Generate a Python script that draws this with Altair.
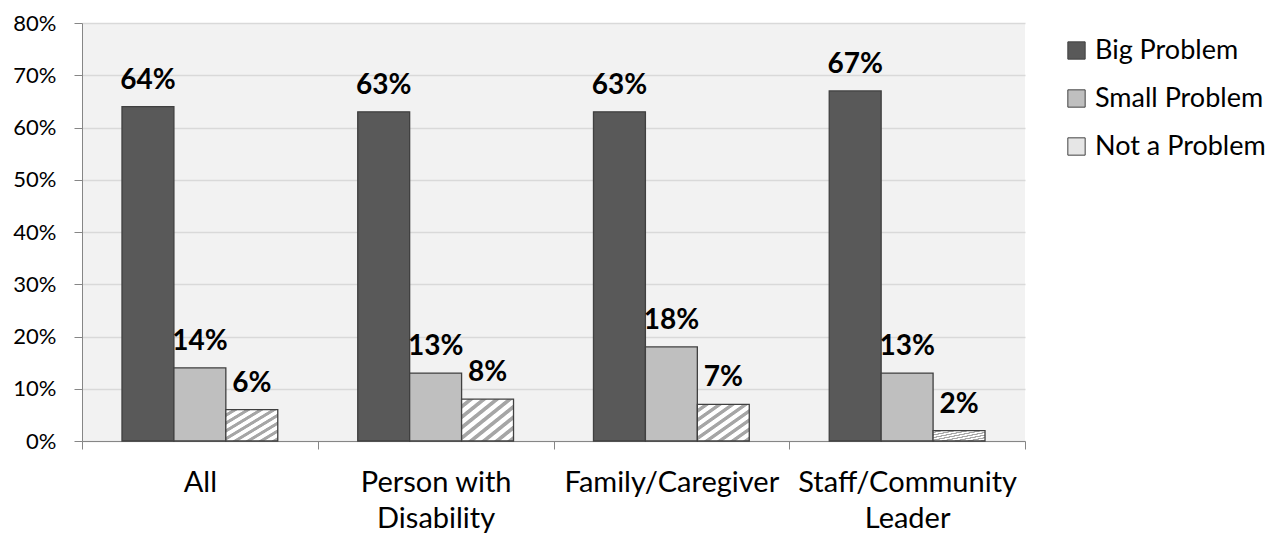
import altair as alt
import pandas as pd

categories = ["All", "Person with Disability", "Family/Caregiver", "Staff/Community Leader"]
responses = ["Big Problem", "Small Problem", "Not a Problem"]
big_problem = [64, 63, 63, 67]
small_problem = [14, 13, 18, 13]
not_a_problem = [6, 8, 7, 2]

rows = []
for i, c in enumerate(categories):
    for r, vals in zip(responses, [big_problem, small_problem, not_a_problem]):
        rows.append({"Group": c, "Response": r, "Value": vals[i] / 100})
df = pd.DataFrame(rows)

FONT = "Lato"

# diagonal hatch approximation via gradient
stops = []
n = 8
for i in range(n):
    p = i / n
    stops += [
        {"offset": p, "color": "#ffffff"},
        {"offset": p + 0.055, "color": "#ffffff"},
        {"offset": p + 0.068, "color": "#a6a6a6"},
        {"offset": p + 0.112, "color": "#a6a6a6"},
    ]
stops.append({"offset": 1.0, "color": "#ffffff"})
hatch = {"gradient": "linear", "x1": 0, "y1": 0, "x2": 1, "y2": 1, "stops": stops}

label_expr = ("datum.label == 'Person with Disability' ? ['Person with', 'Disability'] : "
              "datum.label == 'Staff/Community Leader' ? ['Staff/Community', 'Leader'] : datum.label")

x = alt.X("Group:N", sort=categories, title=None,
          scale=alt.Scale(paddingInner=0, paddingOuter=0),
          axis=alt.Axis(labelExpr=label_expr, labelAngle=0, labelFont=FONT, labelFontSize=29,
                        labelColor="#000000", labelPadding=19, labelLineHeight=36,
                        labelLimit=0, labelOverlap=False,
                        domainColor="#868686", tickColor="#868686", tickSize=8,
                        tickBand="extent", grid=False))
xoff = alt.XOffset("Response:N", sort=responses,
                   scale=alt.Scale(paddingInner=0, paddingOuter=0.77))
y = alt.Y("Value:Q", title=None,
          scale=alt.Scale(domain=[0, 0.8], nice=False),
          axis=alt.Axis(format=".0%", values=[i / 10 for i in range(9)], labelFont=FONT,
                        labelFontSize=22, labelColor="#000000", labelPadding=18,
                        domainColor="#868686", tickColor="#868686", tickSize=8,
                        gridColor="#d9d9d9", gridWidth=1.3))

legend = alt.Legend(title=None, orient="none", legendX=981, legendY=14,
                    symbolType="square", symbolSize=300, symbolStrokeColor="#404040",
                    symbolStrokeWidth=1, labelFont=FONT, labelFontSize=27,
                    labelColor="#000000", rowPadding=20, labelOffset=5, labelLimit=0)

fill = alt.condition(
    alt.datum.Response == "Not a Problem",
    alt.value(hatch),
    alt.Fill("Response:N", sort=responses,
             scale=alt.Scale(domain=responses, range=["#595959", "#bfbfbf", "#e6e6e6"]),
             legend=legend),
)

bars = alt.Chart(df).mark_bar(stroke="#404040", strokeWidth=1.3).encode(
    x=x, xOffset=xoff, y=y, fill=fill
)

labels = alt.Chart(df).mark_text(font=FONT, fontSize=28, fontWeight="bold",
                                 baseline="bottom", dy=-12, color="#000000").encode(
    x=alt.X("Group:N", sort=categories),
    xOffset=alt.XOffset("Response:N", sort=responses),
    y="Value:Q",
    text=alt.Text("Value:Q", format=".0%"),
)

chart = alt.layer(bars, labels).properties(
    width=943, height=418, padding={"left": 4, "top": 4, "right": 0, "bottom": 0}
).configure_view(fill="#f2f2f2", stroke=None)

chart.save("out.html", embed_options={"renderer": "svg", "actions": False})
